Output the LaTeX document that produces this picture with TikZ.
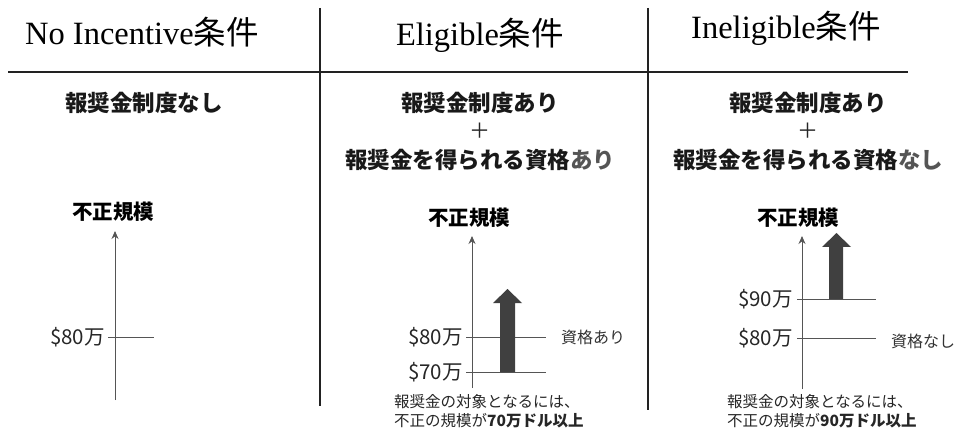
\documentclass[tikz,border=0pt]{standalone}
\usepackage{fontspec}
\setmainfont{Liberation Serif}
\newfontfamily\jp{Noto Sans CJK JP}
\usetikzlibrary{arrows.meta}
\definecolor{divc}{HTML}{222222}
\definecolor{axc}{HTML}{555555}
\definecolor{arrc}{HTML}{404040}
\definecolor{grayt}{HTML}{555555}
\tikzset{
  title/.style={font=\fontsize{32.5}{36}\selectfont, inner sep=0pt},
  sub/.style={font=\jp\bfseries\fontsize{22.5}{26}\selectfont, inner sep=0pt, text=black!90},
  plus/.style={font=\jp\fontsize{21}{24}\selectfont, inner sep=0pt, text=black!85},
  ylab/.style={font=\jp\bfseries\fontsize{20.5}{24}\selectfont, inner sep=0pt},
  val/.style={font=\jp\fontsize{20.5}{24}\selectfont, inner sep=0pt, anchor=east, text=black!85},
  side/.style={font=\jp\fontsize{16}{19}\selectfont, inner sep=0pt, anchor=west, text=black!80},
  note/.style={font=\jp\fontsize{15.5}{18}\selectfont, inner sep=0pt, anchor=west, text=black!85},
  divider/.style={draw=divc, line width=1.3pt},
  axis/.style={draw=axc, line width=0.9pt, -{Stealth[length=8pt,width=7pt]}},
  tick/.style={draw=axc, line width=0.8pt},
  bigarrow/.style={fill=arrc, draw=none},
}
\begin{document}
\begin{tikzpicture}[x=1pt,y=-1pt]
\useasboundingbox (0,0) rectangle (958,430);
% titles
\node[title] (t1) at (142,32) {No Incentive{\jp 条件}};
\node[title] (t2) at (480,35) {Eligible{\jp 条件}};
\node[title] (t3) at (786,28) {Ineligible{\jp 条件}};
% dividers
\coordinate (hl) at (8,72); \coordinate (hr) at (908,72);
\draw[divider] (hl) -- (hr);
\coordinate (v1t) at (320,8); \coordinate (v1b) at (320,406);
\coordinate (v2t) at (648,8); \coordinate (v2b) at (648,410);
\draw[divider] (v1t) -- (v1b);
\draw[divider] (v2t) -- (v2b);
% subtitles
\node[sub] (s1) at (144,103) {報奨金制度なし};
\node[sub] (s2a) at (480,103) {報奨金制度あり};
\node[plus] (s2p) at (480,131) {＋};
\node[sub] (s2b) at (480,160) {報奨金を得られる資格{\color{grayt}あり}};
\node[sub] (s3a) at (808,103) {報奨金制度あり};
\node[plus] (s3p) at (808,131) {＋};
\node[sub] (s3b) at (808,160) {報奨金を得られる資格{\color{grayt}なし}};
% y labels
\node[ylab] (y1) at (113,212) {不正規模};
\node[ylab] (y2) at (469,218) {不正規模};
\node[ylab] (y3) at (798,218) {不正規模};
% column 1
\coordinate (a1b) at (115,400); \coordinate (a1t) at (115,231);
\draw[axis] (a1b) -- (a1t);
\coordinate (k1l) at (108,337); \coordinate (k1r) at (154,337);
\draw[tick] (k1l) -- (k1r);
\node[val] (l1) at (105,337) {\$80万};
% column 2
\coordinate (a2b) at (472,388); \coordinate (a2t) at (472,236);
\draw[axis] (a2b) -- (a2t);
\coordinate (k2al) at (466,337); \coordinate (k2ar) at (546,337);
\draw[tick] (k2al) -- (k2ar);
\coordinate (k2bl) at (466,372); \coordinate (k2br) at (546,372);
\draw[tick] (k2bl) -- (k2br);
\node[val] (l2a) at (463,337) {\$80万};
\node[val] (l2b) at (463,372) {\$70万};
\node[side] (q2) at (561,337) {資格あり};
\fill[bigarrow] (500,372) -- (500,303) -- (493,303) -- (507.5,289) -- (522,303) -- (515,303) -- (515,372) -- cycle;
\node[note] (n2a) at (394,402) {報奨金の対象となるには、};
\node[note] (n2b) at (394,421) {不正の規模が{\bfseries 70万ドル以上}};
% column 3
\coordinate (a3b) at (802,389); \coordinate (a3t) at (802,236);
\draw[axis] (a3b) -- (a3t);
\coordinate (k3al) at (797,299); \coordinate (k3ar) at (876,299);
\draw[tick] (k3al) -- (k3ar);
\coordinate (k3bl) at (797,338); \coordinate (k3br) at (876,338);
\draw[tick] (k3bl) -- (k3br);
\node[val] (l3a) at (793,299) {\$90万};
\node[val] (l3b) at (793,338) {\$80万};
\node[side] (q3) at (891,341) {資格なし};
\fill[bigarrow] (829,299) -- (829,247) -- (822,247) -- (836.5,233) -- (851,247) -- (843,247) -- (843,299) -- cycle;
\node[note] (n3a) at (727,402) {報奨金の対象となるには、};
\node[note] (n3b) at (727,421) {不正の規模が{\bfseries 90万ドル以上}};
\end{tikzpicture}
\end{document}
